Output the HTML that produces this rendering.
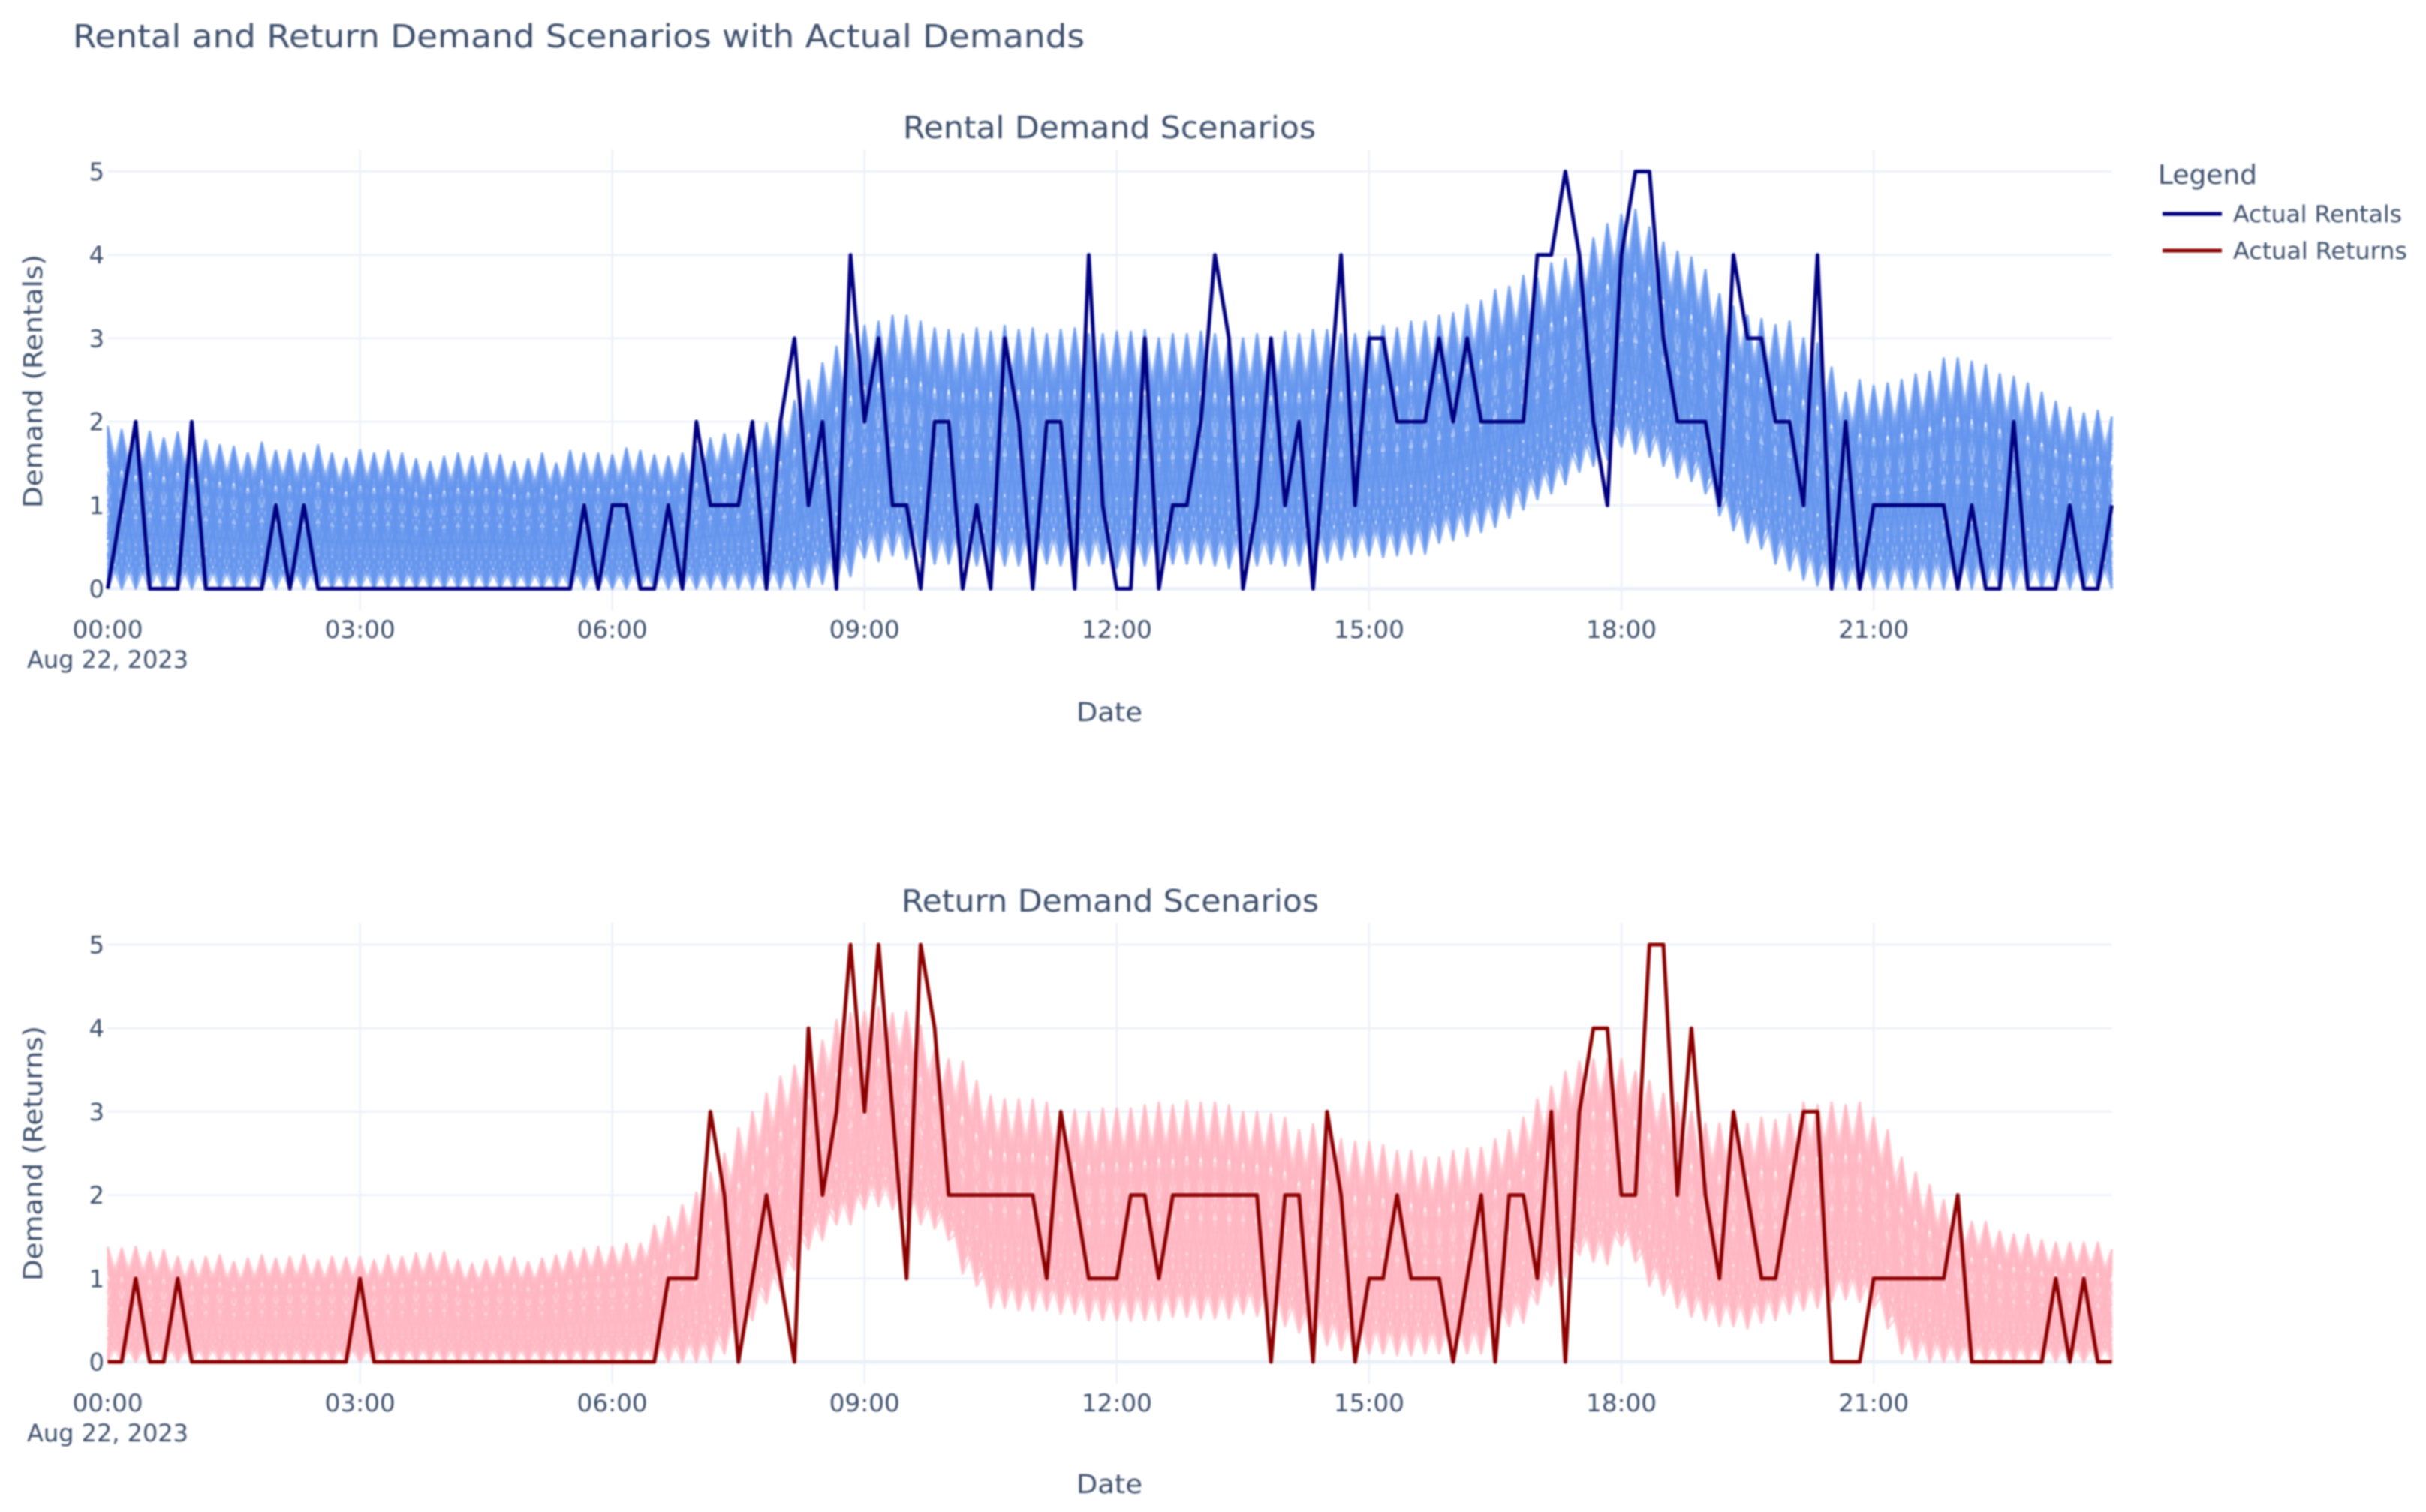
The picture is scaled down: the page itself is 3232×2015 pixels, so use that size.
<!DOCTYPE html>
<html lang="en">
<head>
<meta charset="utf-8">
<title>Rental and Return Demand Scenarios with Actual Demands</title>
<style>
html,body{margin:0;padding:0;background:#fff;width:3232px;height:2015px;overflow:hidden}
svg{display:block;filter:blur(1px)}
text{font-family:"DejaVu Sans","Liberation Sans",sans-serif;fill:#3d4f6b}
</style>
</head>
<body>
<svg id="chart" xmlns="http://www.w3.org/2000/svg" width="3232" height="2015" viewBox="0 0 3232 2015">
  <rect x="0" y="0" width="3232" height="2015" fill="#ffffff"/>
  <text x="97" y="63" font-size="43" textLength="1348" lengthAdjust="spacingAndGlyphs">Rental and Return Demand Scenarios with Actual Demands</text>
  <text x="1478" y="184" font-size="41" text-anchor="middle" textLength="550" lengthAdjust="spacingAndGlyphs">Rental Demand Scenarios</text>
  <text x="1479" y="1215" font-size="41" text-anchor="middle" textLength="556" lengthAdjust="spacingAndGlyphs">Return Demand Scenarios</text>
  <g id="panels"></g>
  <text x="1478" y="961" font-size="35" text-anchor="middle" textLength="88" lengthAdjust="spacingAndGlyphs">Date</text>
  <text x="1478" y="1990" font-size="35" text-anchor="middle" textLength="88" lengthAdjust="spacingAndGlyphs">Date</text>
  <text transform="translate(56,508) rotate(-90)" font-size="35" text-anchor="middle" textLength="338" lengthAdjust="spacingAndGlyphs">Demand (Rentals)</text>
  <text transform="translate(56,1537) rotate(-90)" font-size="35" text-anchor="middle" textLength="340" lengthAdjust="spacingAndGlyphs">Demand (Returns)</text>
  <g>
    <text x="2875" y="245" font-size="36" textLength="132" lengthAdjust="spacingAndGlyphs">Legend</text>
    <g>
      <line x1="2881" y1="285" x2="2960" y2="285" stroke="#000080" stroke-width="5"/>
      <text x="2975" y="296" font-size="31" textLength="225" lengthAdjust="spacingAndGlyphs">Actual Rentals</text>
    </g>
    <g>
      <line x1="2881" y1="334" x2="2960" y2="334" stroke="#8b0000" stroke-width="5"/>
      <text x="2975" y="345" font-size="31" textLength="232" lengthAdjust="spacingAndGlyphs">Actual Returns</text>
    </g>
  </g>
</svg>
<script>
// Demand readings taken every 10 minutes across Aug 22, 2023.
var actualRentals = [
0,1,2,0,0,0,2,0,0,0,
0,0,1,0,1,0,0,0,0,0,
0,0,0,0,0,0,0,0,0,0,
0,0,0,0,1,0,1,1,0,0,
1,0,2,1,1,1,2,0,2,3,
1,2,0,4,2,3,1,1,0,2,
2,0,1,0,3,2,0,2,2,0,
4,1,0,0,3,0,1,1,2,4,
3,0,1,3,1,2,0,2,4,1,
3,3,2,2,2,3,2,3,2,2,
2,2,4,4,5,4,2,1,4,5,
5,3,2,2,2,1,4,3,3,2,
2,1,4,0,2,0,1,1,1,1,
1,1,0,1,0,0,2,0,0,0,
1,0,0,1];
var actualReturns = [
0,0,1,0,0,1,0,0,0,0,
0,0,0,0,0,0,0,0,1,0,
0,0,0,0,0,0,0,0,0,0,
0,0,0,0,0,0,0,0,0,0,
1,1,1,3,2,0,1,2,1,0,
4,2,3,5,3,5,3,1,5,4,
2,2,2,2,2,2,2,1,3,2,
1,1,1,2,2,1,2,2,2,2,
2,2,2,0,2,2,0,3,2,0,
1,1,2,1,1,1,0,1,2,0,
2,2,1,3,0,3,4,4,2,2,
5,5,2,4,2,1,3,2,1,1,
2,3,3,0,0,0,1,1,1,1,
1,1,2,0,0,0,0,0,0,1,
0,1,0,0];
// Upper and lower reach of the scenario bundles, read per time step.
var rentalScenarioUpper = [
1.95,1.9,1.82,1.88,1.8,1.87,1.78,1.78,1.72,1.7,
1.62,1.75,1.65,1.66,1.62,1.72,1.62,1.56,1.66,1.62,
1.65,1.62,1.55,1.52,1.58,1.62,1.58,1.62,1.6,1.52,
1.55,1.62,1.5,1.65,1.62,1.62,1.6,1.68,1.65,1.6,
1.58,1.62,1.7,1.8,1.85,1.85,1.95,1.98,2.05,2.25,
2.5,2.7,2.9,3.05,3.15,3.2,3.27,3.27,3.2,3.12,
3.1,3.05,3.12,3.08,3.15,3.1,3.12,3.05,3.1,3.12,
3.05,3.05,3.08,3.08,3.1,3.0,3.05,3.05,3.08,3.05,
3.02,3.0,3.05,3.0,3.08,3.05,3.1,3.1,3.05,3.05,
3.08,3.15,3.12,3.2,3.2,3.27,3.3,3.4,3.45,3.58,
3.62,3.75,3.72,3.9,3.95,4.05,4.2,4.37,4.48,4.54,
4.33,4.15,4.04,3.97,3.82,3.53,3.38,3.27,3.23,3.16,
3.2,3.0,2.94,2.65,2.35,2.5,2.43,2.46,2.5,2.57,
2.6,2.76,2.76,2.72,2.68,2.57,2.54,2.46,2.35,2.24,
2.17,2.1,2.13,2.06];
var rentalScenarioLower = [
0,0,0,0,0,0,0,0,0,0,
0,0,0,0,0,0,0,0,0,0,
0,0,0,0,0,0,0,0,0,0,
0,0,0,0,0,0,0,0,0,0,
0,0,0,0,0,0,0,0,0,0,
0.02,0.06,0.08,0.15,0.37,0.33,0.4,0.36,0.38,0.3,
0.3,0.3,0.28,0.25,0.28,0.28,0.25,0.3,0.28,0.25,
0.28,0.3,0.25,0.25,0.28,0.28,0.3,0.3,0.3,0.28,
0.25,0.27,0.28,0.3,0.28,0.28,0.3,0.32,0.35,0.38,
0.4,0.38,0.4,0.42,0.42,0.55,0.58,0.63,0.68,0.74,
0.85,0.95,1.07,1.14,1.25,1.4,1.47,1.55,1.7,1.62,
1.58,1.47,1.33,1.29,1.14,0.88,0.7,0.55,0.48,0.3,
0.22,0.11,0.04,0,0,0,0,0,0,0,
0,0,0,0,0,0,0,0,0,0,
0,0,0,0];
var returnScenarioUpper = [
1.38,1.36,1.38,1.32,1.34,1.26,1.22,1.26,1.28,1.2,
1.24,1.28,1.24,1.26,1.28,1.22,1.26,1.25,1.26,1.22,
1.28,1.26,1.3,1.3,1.32,1.22,1.18,1.22,1.26,1.25,
1.2,1.24,1.28,1.33,1.36,1.38,1.38,1.42,1.42,1.64,
1.74,1.88,2.03,2.27,2.5,2.8,3.0,3.22,3.42,3.55,
3.77,3.85,4.1,4.18,4.2,4.25,4.18,4.2,4.03,3.74,
3.63,3.6,3.37,3.19,3.15,3.15,3.15,3.11,3.0,3.02,
3.0,3.04,3.04,3.04,3.08,3.11,3.08,3.13,3.11,3.11,
3.08,3.0,3.0,2.97,2.93,2.78,2.85,2.86,2.67,2.64,
2.64,2.6,2.53,2.53,2.45,2.45,2.53,2.56,2.57,2.67,
2.78,2.93,3.15,3.3,3.48,3.6,3.63,3.63,3.63,3.48,
3.37,3.22,3.11,3.0,2.86,2.86,2.93,2.86,2.93,2.9,
2.97,3.11,3.08,3.11,3.08,3.11,2.93,2.78,2.45,2.27,
2.12,1.94,1.79,1.68,1.68,1.57,1.53,1.53,1.46,1.43,
1.43,1.43,1.43,1.35];
var returnScenarioLower = [
0,0,0,0,0,0,0,0,0,0,
0,0,0,0,0,0,0,0,0,0,
0,0,0,0,0,0,0,0,0,0,
0,0,0,0,0,0,0,0,0,0,
0,0,0,0,0.1,0.25,0.5,0.7,0.85,1.1,
1.35,1.46,1.65,1.65,1.83,1.87,1.83,1.7,1.65,1.6,
1.46,1.06,0.91,0.65,0.65,0.62,0.62,0.62,0.58,0.58,
0.5,0.5,0.5,0.49,0.5,0.5,0.54,0.54,0.52,0.52,
0.52,0.58,0.55,0.5,0.43,0.35,0.25,0.2,0.14,0.1,
0.1,0.1,0.08,0.08,0.1,0.1,0.08,0.1,0.1,0.3,
0.43,0.47,0.69,0.91,1.02,1.28,1.2,1.17,1.39,1.2,
0.91,0.8,0.65,0.54,0.5,0.43,0.43,0.4,0.47,0.5,
0.58,0.62,0.65,0.73,0.75,0.72,0.65,0.4,0.1,0.03,
0,0,0,0,0,0,0,0,0,0,
0,0,0,0];
// Share of the band each scenario reaches on alternating time steps.
var scenarioShareEven = [1,0,1,0.62,0,0.22,0.92,0.08,0.82,0.3,0.72,0.14,0.6,0.05,0.96,0.46,0.52,0.26,0.88,0.36,
0.94,0.6,0.84,0.66,0.78,0.5,0.7,0.4,0.62,0.34,0.55,0.18,0.45,0.1,0.35,0.03,0.28,0.12,0.2,0.06,
0.75,0.65,0.55,0.45,0.35,0.25,0.16,0.9,0.2,0.85,0.05,0.98,0.3,0.4,0.02];
var scenarioShareOdd  = [0,1,0.62,1,0.22,0,0.08,0.92,0.3,0.82,0.14,0.72,0.05,0.6,0.46,0.96,0.26,0.52,0.36,0.88,
0.6,0.94,0.66,0.84,0.5,0.78,0.4,0.7,0.34,0.62,0.18,0.55,0.1,0.45,0.03,0.35,0.12,0.28,0.06,0.2,
0.75,0.65,0.55,0.45,0.35,0.25,0.16,0.2,0.9,0.05,0.85,0.3,0.98,0.02,0.4];
var xTickHours = [0,3,6,9,12,15,18,21];
var xTickLabels = ["00:00","03:00","06:00","09:00","12:00","15:00","18:00","21:00"];
var yTickValues = [0,1,2,3,4,5];
var dateCaption = "Aug 22, 2023";

var SVG_NS = "http://www.w3.org/2000/svg";
var plotLeft = 143.5, hourWidth = 112.03, minutesPerStep = 10;

function xAtHour(hour){ return plotLeft + hour * hourWidth; }
function xAtStep(step){ return xAtHour(step * minutesPerStep / 60); }
function makeYScale(zeroY, unit){ return function(v){ return zeroY - v * unit; }; }
function pathFrom(values, yScale){
  var d = "";
  for (var i = 0; i < values.length; i++) {
    d += (i ? "L" : "M") + xAtStep(i).toFixed(2) + " " + yScale(values[i]).toFixed(2);
  }
  return d;
}
function create(tag, attrs, parent){
  var el = document.createElementNS(SVG_NS, tag);
  for (var k in attrs) { el.setAttribute(k, attrs[k]); }
  parent.appendChild(el);
  return el;
}

function drawPanel(key, zeroY, unit, upper, lower, actual, bandColor, bandOpacity, lineColor, tickY, dateY){
  var root = document.getElementById("panels");
  var yScale = makeYScale(zeroY, unit);
  var plotRight = xAtStep(actual.length - 1);
  var g = create("g", {}, root);
  
  

  xTickHours.forEach(function(hour, idx){
    if (hour > 0) {
      var v = create("line", {x1:xAtHour(hour), x2:xAtHour(hour), y1:yScale(5.26), y2:yScale(-0.26), stroke:"#ebf0f8", "stroke-width":2.5}, g);
      
      
    }
    var t = create("text", {x:xAtHour(hour), y:tickY, "font-size":32, "text-anchor":"middle", textLength:94, lengthAdjust:"spacingAndGlyphs"}, g);
    t.textContent = xTickLabels[idx];
    
    
  });
  var dt = create("text", {x:xAtHour(0), y:dateY, "font-size":32, "text-anchor":"middle", textLength:215, lengthAdjust:"spacingAndGlyphs"}, g);
  dt.textContent = dateCaption;
  
  

  yTickValues.forEach(function(value){
    var h = create("line", {x1:plotLeft, x2:plotRight, y1:yScale(value), y2:yScale(value), stroke:"#ebf0f8", "stroke-width": value === 0 ? 5 : 2.5}, g);
    
    
    var t = create("text", {x:139, y:yScale(value) + 11.5, "font-size":32, "text-anchor":"end"}, g);
    t.textContent = String(value);
    
    
  });

  var band = create("g", {fill:"none", stroke:bandColor, "stroke-width":3, "stroke-linejoin":"round", "stroke-opacity":bandOpacity}, g);
  
  
  scenarioShareEven.forEach(function(shareEven, s){
    var shareOdd = scenarioShareOdd[s];
    var values = upper.map(function(top, i){
      var share = i % 2 === 0 ? shareEven : shareOdd;
      return lower[i] + (top - lower[i]) * share;
    });
    var p = create("path", {d:pathFrom(values, yScale)}, band);
    
    
  });

  var line = create("path", {d:pathFrom(actual, yScale), fill:"none", stroke:lineColor, "stroke-width":5, "stroke-linejoin":"round"}, g);
  
  
}

drawPanel("rental", 784.5, 111.2, rentalScenarioUpper, rentalScenarioLower, actualRentals, "#6495ed", 0.62, "#000080", 850, 890);
drawPanel("return", 1815, 111.2, returnScenarioUpper, returnScenarioLower, actualReturns, "#ffb6c1", 0.62, "#8b0000", 1881, 1921);
</script>
</body>
</html>
